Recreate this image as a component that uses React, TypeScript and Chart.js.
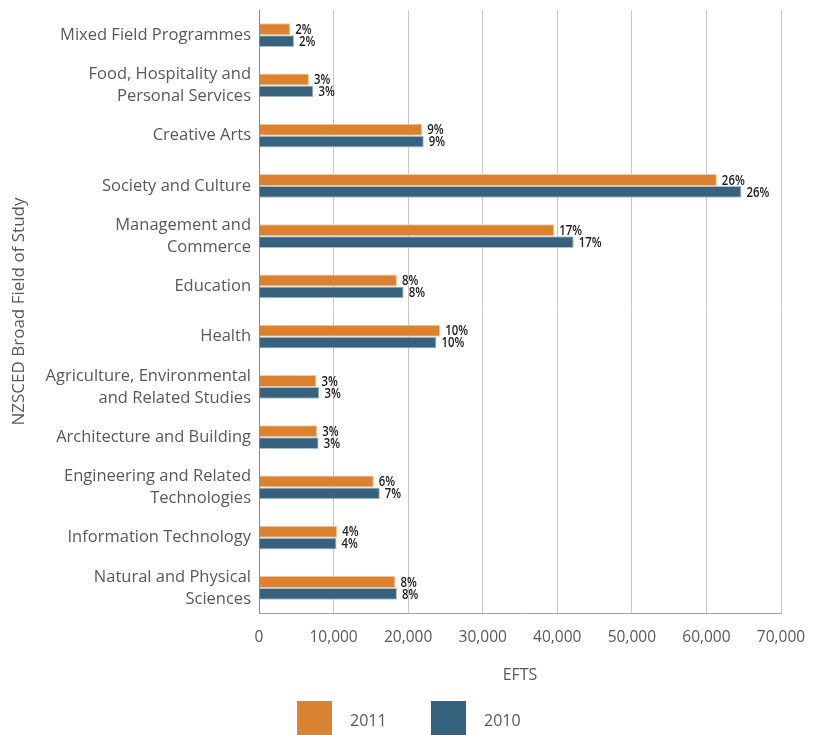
import React, { useEffect, useRef } from "react";
import { Chart, registerables } from "chart.js";

Chart.register(...registerables);

const categories: (string | string[])[] = [
  "Mixed Field Programmes",
  ["Food, Hospitality and", "Personal Services"],
  "Creative Arts",
  "Society and Culture",
  ["Management and", "Commerce"],
  "Education",
  "Health",
  ["Agriculture, Environmental", "and Related Studies"],
  "Architecture and Building",
  ["Engineering and Related", "Technologies"],
  "Information Technology",
  ["Natural and Physical", "Sciences"],
];

const efts2011 = [4200, 6700, 21900, 61400, 39600, 18500, 24300, 7700, 7800, 15400, 10500, 18300];
const efts2010 = [4700, 7300, 22100, 64700, 42200, 19400, 23800, 8100, 8000, 16200, 10400, 18500];

const pct2011 = ["2%", "3%", "9%", "26%", "17%", "8%", "10%", "3%", "3%", "6%", "4%", "8%"];
const pct2010 = ["2%", "3%", "9%", "26%", "17%", "8%", "10%", "3%", "3%", "7%", "4%", "8%"];

const seriesLabels = ["2011", "2010"];
const xTicks = [0, 10000, 20000, 30000, 40000, 50000, 60000, 70000];

const ORANGE = "#db8230";
const BLUE = "#37627e";
const TEXT = "#595959";
const FONT = "'Open Sans', sans-serif";

export default function App() {
  const ref = useRef<HTMLCanvasElement | null>(null);

  useEffect(() => {
    if (!ref.current) return;
    const pctLists = [pct2011, pct2010];

    const labelPlugin = {
      id: "pctLabels",
      afterDatasetsDraw(chart: any) {
        const ctx = chart.ctx;
        chart.data.datasets.forEach((_ds: any, di: number) => {
          const meta = chart.getDatasetMeta(di);
          meta.data.forEach((bar: any, i: number) => {
            ctx.save();
            ctx.font = `600 15px ${FONT}`;
            ctx.fillStyle = "#1e1e1e";
            ctx.textAlign = "left";
            ctx.textBaseline = "middle";
            ctx.translate(bar.x + 5, bar.y + 0.5);
            ctx.scale(0.76, 1);
            ctx.fillText(pctLists[di][i], 0, 0);
            ctx.restore();
          });
        });
      },
    };

    const legendPlugin = {
      id: "bigLegend",
      afterDraw(chart: any) {
        const ctx = chart.ctx;
        ctx.save();
        ctx.font = `16px ${FONT}`;
        ctx.textBaseline = "middle";
        ctx.textAlign = "left";
        const xs = [297, 431];
        chart.data.datasets.forEach((ds: any, di: number) => {
          const x = xs[di];
          ctx.fillStyle = ds.backgroundColor;
          ctx.fillRect(x, 701, 35, 36);
          ctx.fillStyle = TEXT;
          ctx.fillText(ds.label, x + 53, 721);
        });
        ctx.restore();
      },
    };

    const chart = new Chart(ref.current, {
      type: "bar",
      data: {
        labels: categories,
        datasets: [
          {
            label: seriesLabels[0],
            data: efts2011,
            backgroundColor: ORANGE,
            borderColor: "#f0c9a0",
            borderWidth: 1,
            categoryPercentage: 0.47,
            barPercentage: 1.0,
          },
          {
            label: seriesLabels[1],
            data: efts2010,
            backgroundColor: BLUE,
            borderColor: "#a9bfcd",
            borderWidth: 1,
            categoryPercentage: 0.47,
            barPercentage: 1.0,
          },
        ],
      },
      options: {
        indexAxis: "y",
        animation: false,
        responsive: false,
        maintainAspectRatio: false,
        layout: { padding: { top: 10, bottom: 50, left: 0, right: 32 } },
        plugins: {
          legend: { display: false },
          tooltip: { enabled: false },
        },
        scales: {
          x: {
            min: 0,
            max: 70000,
            afterBuildTicks(scale: any) {
              scale.ticks = xTicks.map((v) => ({ value: v }));
            },
            afterFit(scale: any) {
              scale.height = 72;
              scale.paddingLeft = 0;
              scale.paddingRight = 0;
            },
            ticks: {
              color: TEXT,
              font: { family: FONT, size: 15.5 },
              padding: 15,
              callback: (v: any) => Number(v).toLocaleString("en-US"),
              maxRotation: 0,
            },
            grid: { color: "#c8c8c8", lineWidth: 1, drawTicks: false },
            border: { color: "#a0a0a0" },
            title: {
              display: true,
              text: "EFTS",
              color: TEXT,
              font: { family: FONT, size: 16 },
              padding: { top: 0, bottom: 0 },
            },
          },
          y: {
            afterFit(scale: any) {
              scale.width = 259;
              scale.paddingTop = 0;
              scale.paddingBottom = 0;
            },
            ticks: {
              color: TEXT,
              font: { family: FONT, size: 16.5, lineHeight: 1.33 },
              padding: 8,
            },
            grid: { display: false, drawTicks: false },
            border: { color: "#8a8a8a" },
            title: {
              display: true,
              text: "NZSCED Broad Field of Study",
              color: TEXT,
              font: { family: FONT, size: 17 },
              padding: { top: 9, bottom: 0 },
            },
          },
        },
      },
      plugins: [labelPlugin, legendPlugin],
    } as any);

    return () => chart.destroy();
  }, []);

  return (
    <div style={{ position: "fixed", left: 0, top: 0, width: 813, height: 735, overflow: "hidden", background: "#fff" }}>
      <canvas ref={ref} width={813} height={735} style={{ display: "block" }} />
    </div>
  );
}
